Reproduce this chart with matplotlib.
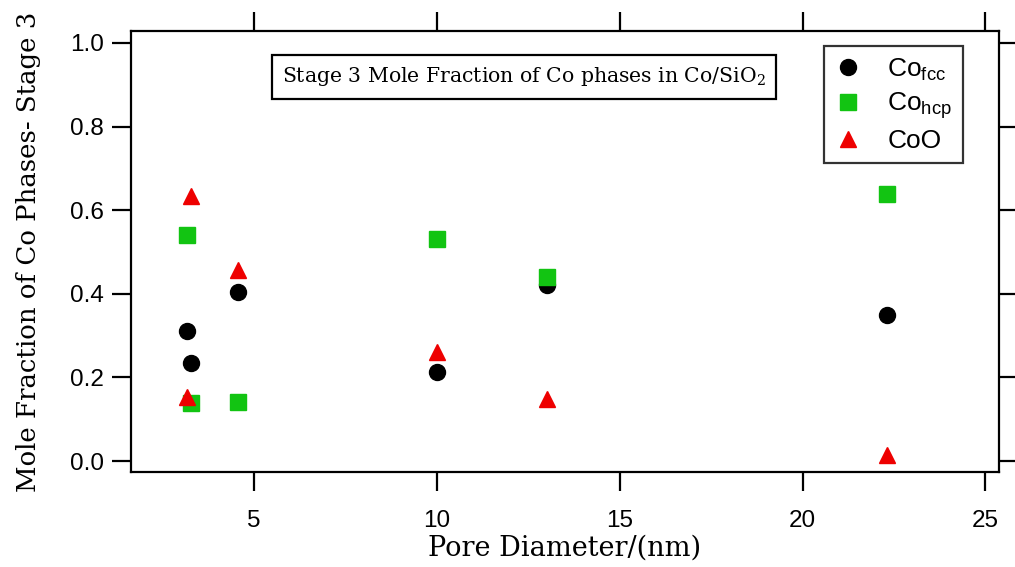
import matplotlib
matplotlib.use("Agg")
import matplotlib.pyplot as plt

# Data
pore_diameter = [3.17, 3.28, 4.56, 10.0, 13.0, 22.3]
co_fcc = [0.310, 0.234, 0.405, 0.213, 0.420, 0.349]
co_hcp = [0.540, 0.139, 0.141, 0.531, 0.440, 0.639]
coo = [0.153, 0.634, 0.457, 0.261, 0.148, 0.015]
x_ticks = [5, 10, 15, 20, 25]
y_ticks = [0.0, 0.2, 0.4, 0.6, 0.8, 1.0]
series_labels = [r'Co$_{\mathregular{fcc}}$', r'Co$_{\mathregular{hcp}}$', 'CoO']

W, H = 1015, 567
fig = plt.figure(figsize=(W / 100, H / 100), dpi=100)
ax = fig.add_axes([131 / W, 1 - 472 / H, (999 - 131) / W, (472 - 31) / H])

ax.plot(pore_diameter, co_fcc, linestyle='none', marker='o', ms=11.5,
        color='black', label=series_labels[0])
ax.plot(pore_diameter, co_hcp, linestyle='none', marker='s', ms=11,
        color='#12c412', label=series_labels[1])
ax.plot(pore_diameter, coo, linestyle='none', marker='^', ms=12,
        color='#ee0000', label=series_labels[2])

ax.set_xlim(1.64, 25.37)
ax.set_ylim(-0.0263, 1.0287)
ax.set_xticks(x_ticks)
ax.set_yticks(y_ticks)
ax.set_xticklabels([str(v) for v in x_ticks], family='Liberation Sans', fontsize=17.5)
ax.set_yticklabels([f'{v:.1f}' for v in y_ticks], family='Liberation Sans', fontsize=17.5)

for s in ax.spines.values():
    s.set_linewidth(1.6)
ax.tick_params(axis='both', which='major', direction='out', length=13.5, width=1.6,
               top=True, right=True, labeltop=False, labelright=False)
ax.tick_params(axis='x', pad=14)
ax.tick_params(axis='y', pad=6)

ax.set_xlabel('Pore Diameter/(nm)', family='DejaVu Serif', fontsize=19.5, labelpad=2)
ax.set_ylabel('Mole Fraction of Co Phases- Stage 3', family='DejaVu Serif', fontsize=18.7,
              labelpad=21)

leg = ax.legend(loc='upper right', bbox_to_anchor=(963 / W, 1 - 46 / H),
                bbox_transform=fig.transFigure, frameon=True, fancybox=False,
                prop={'family': 'Liberation Sans', 'size': 19}, handlelength=1.0,
                handletextpad=1.0, borderpad=0.4, labelspacing=0.28,
                borderaxespad=0)
leg.get_frame().set_edgecolor('black')
leg.get_frame().set_linewidth(1.6)

fig.text(524 / W, 1 - 77 / H, r'Stage 3 Mole Fraction of Co phases in Co/SiO$_{\mathregular{2}}$',
         family='DejaVu Serif', fontsize=14.7, ha='center', va='center',
         bbox=dict(boxstyle='square,pad=0.5', facecolor='white', edgecolor='black',
                   linewidth=1.6))

fig.savefig('out.png', dpi=100)
